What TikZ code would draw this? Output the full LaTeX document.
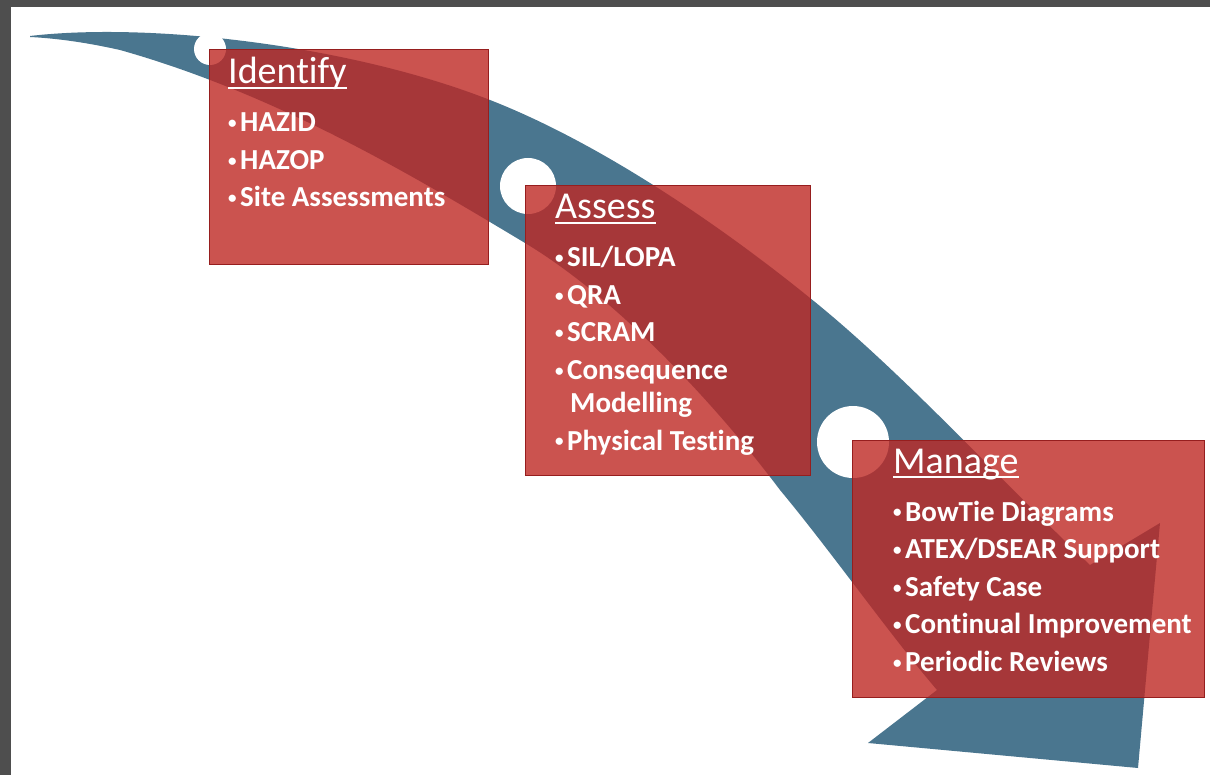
\documentclass[tikz,border=0pt]{standalone}
\usepackage{fontspec}
\setmainfont[Ligatures={TeX,NoCommon}]{Carlito}
\definecolor{slate}{RGB}{74,118,143}
\definecolor{brick}{RGB}{190,40,36}
\definecolor{brickedge}{RGB}{150,30,30}
\definecolor{bezel}{RGB}{78,78,78}
\newcommand\dotmark{\makebox[12pt][l]{\raisebox{3.2pt}{\fontsize{17}{17}\selectfont•}}}
\begin{document}
\begin{tikzpicture}[x=1pt, y=-1pt,
  stagebox/.style={draw=brickedge, line width=0.8pt, fill=brick, fill opacity=0.8, anchor=north west, inner sep=0pt},
  heading/.style={anchor=base west, inner sep=0pt, text=white, font=\fontsize{38}{40}\selectfont},
  point/.style={anchor=base west, inner sep=0pt, text=white, font=\fontsize{29}{32}\selectfont\bfseries},
  rule/.style={white, line width=1.6pt}]
  \useasboundingbox (0,0) rectangle (1210,775);
  \fill[white] (0,0) rectangle (1210,775);
  \fill[bezel] (0,0) rectangle (1210,7);
  \fill[bezel] (0,0) rectangle (10.5,775);
  % sweeping arrow behind the three stages
  \fill[slate] (30,36) .. controls (150,22) and (350,45) .. (490,100)
    .. controls (600,143) and (720,225) .. (810,298)
    .. controls (900,370) and (1000,480) .. (1090,565)
    -- (1160,523) -- (1138,768) -- (868,743) -- (937,690)
    .. controls (890,635) and (830,550) .. (780,490)
    .. controls (720,410) and (620,300) .. (525,243)
    .. controls (420,180) and (280,95) .. (120,50)
    .. controls (80,41) and (50,38) .. (30,37) -- cycle;
  \fill[white] (210,49) circle (16);
  \fill[white] (528,186) circle (28);
  \fill[white] (853,442) circle (36);
  % stages
  \node[stagebox, minimum width=279pt, minimum height=215pt] (identify) at (209,49) {};
  \node[stagebox, minimum width=285pt, minimum height=290pt] (assess) at (525,185) {};
  \node[stagebox, minimum width=352pt, minimum height=257pt] (manage) at (852,440) {};
  \node[heading] (identify-title) at (228,84) {Identify};
  \draw[rule] ([yshift=-4pt]identify-title.base west) -- ([yshift=-4pt]identify-title.base east);
  \foreach \txt [count=\k from 0] in {HAZID, HAZOP, Site Assessments}
    \node[point] (identify-\k) at (228,{132+37.5*\k}) {\dotmark\txt};
  \node[heading] (assess-title) at (555,219) {Assess};
  \draw[rule] ([yshift=-4pt]assess-title.base west) -- ([yshift=-4pt]assess-title.base east);
  \foreach \txt [count=\k from 0] in {SIL/LOPA, QRA, SCRAM, Consequence}
    \node[point] (assess-\k) at (555,{267+37.5*\k}) {\dotmark\txt};
  \node[point] (assess-4) at (555,412) {\hspace*{15pt}Modelling};
  \node[point] (assess-5) at (555,450) {\dotmark Physical Testing};
  \node[heading] (manage-title) at (893,473) {Manage};
  \draw[rule] ([yshift=-4pt]manage-title.base west) -- ([yshift=-4pt]manage-title.base east);
  \foreach \txt [count=\k from 0] in {BowTie Diagrams, ATEX/DSEAR Support, Safety Case, Continual Improvement, Periodic Reviews}
    \node[point] (manage-\k) at (893,{521+37.6*\k}) {\dotmark\txt};
\end{tikzpicture}
\end{document}
